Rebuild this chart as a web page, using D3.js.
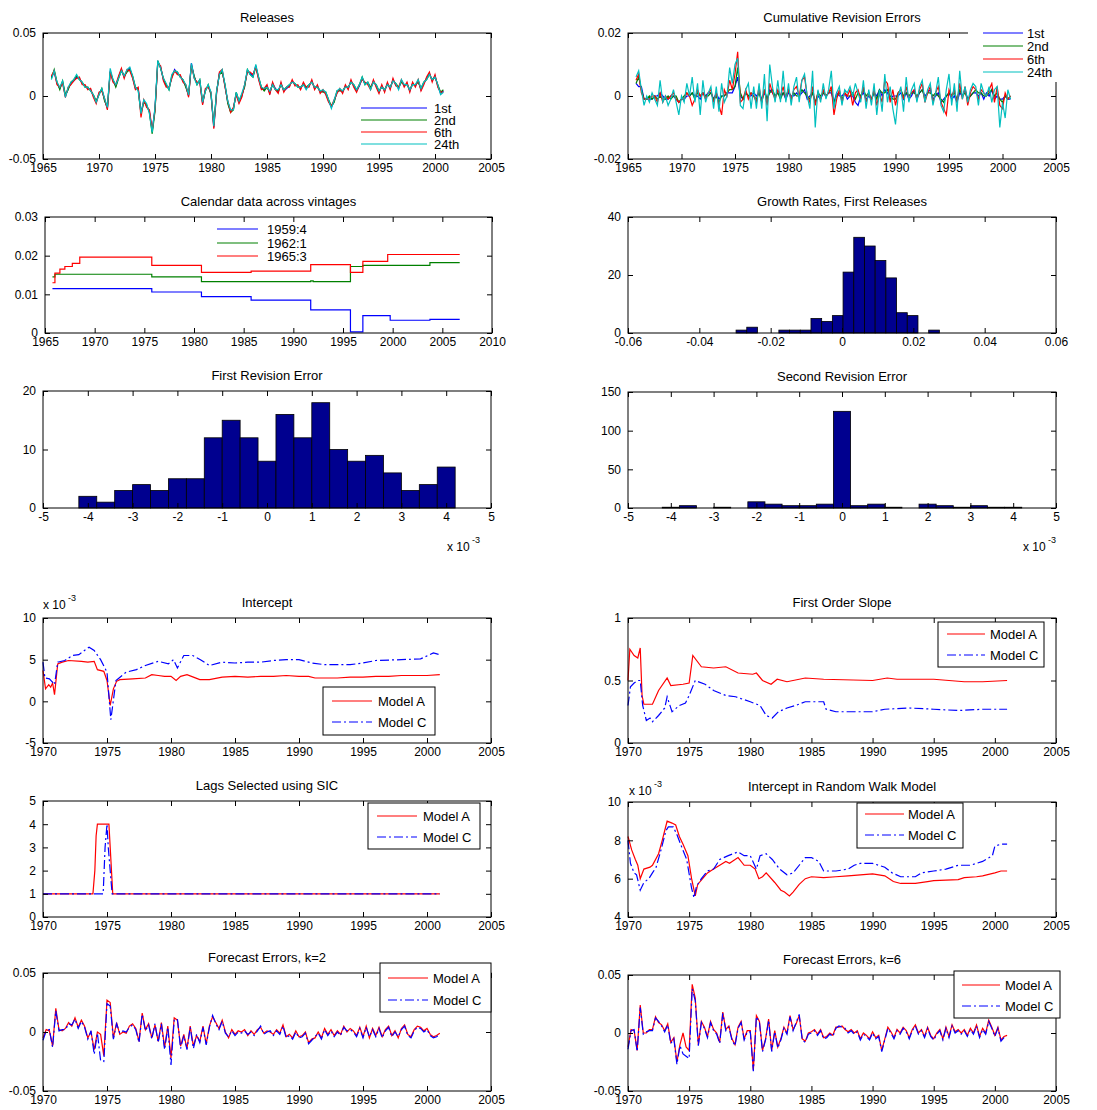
<!DOCTYPE html>
<html>
<head>
<meta charset="utf-8">
<script src="https://cdn.jsdelivr.net/npm/d3@7"></script>
<style>
  body { margin: 0; background: #fff; }
  text { font-family: "Liberation Sans", Arial, sans-serif; fill: #000; }
</style>
</head>
<body>
<div id="chart"></div>
<script>
// ---- data (growth rates and errors in units of 0.001) ----

// Releases, quarterly from 1965:4
var rel1 = [15, 19,10,6,11, 0,6,10,12, 15,14,10,8, 6,5,0,-5, 2,5,-3,-10, 20,12,8,15, 21,15,20,22, 15,6,6,-13,
  -4,-8,-12,-28, -10,27,23,13, 8,6,15,21, 18,16,12,8, 0,26,15,10, 12,-6,5,8, 2,-25,3,18, 20,8,-5,-12,
  -10,2,-5,0, 8,20,18,16, 24,14,6,5, 8,2,10,6, 3,10,4,6, 8,12,9,8, 6,10,6,8, 12,6,8,3, 4,2,-4,-9,
  -4,3,5,3, 8,6,12,8, 4,8,14,10, 10,6,12,8, 3,8,4,10, 6,13,9,6, 12,8,10,4, 10,8,12,5, 10,14,18,12, 16,8,2,4];
var rel2 = [14, 21,11,5,12, 1,5,11,13, 16,13,11,7, 7,4,1,-4, 1,6,-4,-9, 19,13,7,14, 20,16,19,21, 16,7,5,-14,
  -5,-7,-13,-30, -12,28,22,14, 9,5,16,20, 19,15,13,7, 1,24,16,9, 13,-5,4,9, 1,-23,4,17, 19,9,-6,-13,
  -11,3,-4,1, 7,21,17,15, 23,15,7,4, 7,3,9,5, 4,9,5,7, 9,11,10,7, 7,9,7,9, 11,7,7,4, 3,3,-3,-8,
  -5,4,4,4, 7,7,11,9, 5,9,15,9, 11,7,11,9, 4,7,5,9, 7,12,10,7, 11,9,9,5, 9,9,11,6, 11,13,17,13, 15,9,3,5];
var rel6 = [16, 20,9,7,10, -1,7,9,12, 14,15,9,9, 5,6,-1,-6, 3,4,-2,-11, 19,11,9,16, 22,14,21,20, 14,5,7,-17,
  -3,-9,-11,-27, -11,26,24,12, 7,7,14,20, 17,17,11,9, -1,25,14,11, 11,-7,6,7, 3,-26,2,19, 21,7,-4,-13,
  -9,1,-6,-1, 9,19,19,17, 23,13,5,6, 9,1,11,5, 2,11,3,7, 7,13,8,9, 5,11,7,7, 13,5,9,2, 5,1,-5,-8,
  -3,2,6,2, 9,5,13,7, 3,9,13,11, 9,5,13,7, 2,9,3,11, 5,14,8,7, 13,7,11,3, 11,7,13,4, 9,15,19,11, 17,7,3,3];
var rel24 = [13, 20,11,7,12, -1,7,11,13, 17,13,11,7, 7,4,1,-5, 1,6,-2,-9, 22,13,9,14, 20,16,21,23, 16,7,4,-14,
  -3,-6,-14,-29, -9,28,22,14, 10,5,17,20, 19,15,13,9, 1,26,14,9, 13,-5,4,9, 3,-24,4,17, 21,9,-4,-11,
  -11,3,-4,2, 9,21,17,15, 25,15,7,6, 7,4,9,5, 5,9,5,7, 9,11,10,7, 7,9,5,9, 11,7,7,4, 5,3,-3,-10,
  -3,4,6,4, 7,7,11,9, 5,9,15,9, 11,5,11,9, 4,7,5,9, 7,12,10,5, 13,9,9,5, 9,9,13,6, 11,13,17,13, 15,9,1,3];

// Cumulative revision errors, quarterly from 1965:4
var rev1 = [4, 3,3,-1,-1, -1,-1,0,0, 1,0,-1,-1, 0,0,-1,-2, -1,-1,0,0, 1,0,0,-1, 1,0,1,1, -1,1,-1,0,
  0,1,1,1, 3,6,0,-1, 1,0,0,1, 0,1,-1,1, -1,2,1,0, 1,0,1,-1, 1,0,0,1, 0,1,2,-1, 0,1,-2,0, -1,1,0,1,
  1,-2,1,0, 0,1,-1,0, 0,-2,-3,0, 1,-1,0,-1, 1,0,2,0, 2,1,-1,0, 0,0,1,-1, 1,-1,0,2, -1,1,2,0,
  1,2,-1,0, 1,-2,-1,0, 1,-1,0,-2, 1,0,2,-1, 0,1,1,0, 1,-1,1,0, 2,-1,0,-1, -1,0,-1,-1];
var rev2 = [4, 6,2,-1,-1, 0,-1,0,-1, 0,-1,-1,0, -1,0,0,-2, -1,0,1,0, 1,-1,1,0, 1,0,0,1, -1,0,-2,0,
  0,1,2,2, 3,9,1,-1, 1,0,1,0, -1,1,-2,2, -1,1,2,0, 1,-1,1,0, 2,-1,1,0, 0,2,1,0, -1,1,-2,1, 0,1,0,1,
  2,-2,0,1, -1,1,0,0, 1,-1,1,0, 2,0,1,-1, 1,-1,2,1, 1,2,0,-1, -1,1,2,0, 1,0,1,1, 0,1,2,-1,
  1,1,0,1, 0,-1,-2,0, 1,0,1,-1, 2,0,1,-1, 0,1,2,1, 1,0,0,1, 2,0,1,-1, -2,0,-1,0];
var rev6 = [5, 7,1,-1,-1, -1,0,0,-2, 1,-2,0,-1, 0,1,-1,-2, -1,-1,1,0, -3,-1,2,0, 1,-1,1,2, -2,1,-3,-6,
  2,0,5,2, 7,14,-2,-1, 2,-1,1,0, -2,3,-2,2, -3,4,1,-1, 2,0,3,-1, 2,-1,2,3, 0,5,6,0, -2,3,-3,1, -1,2,0,1,
  3,-6,-1,2, -2,1,0,2, -3,1,2,-1, 3,-2,1,-1, 2,-3,1,-2, 5,4,-2,2, -3,1,2,-1, 3,-1,1,2, -1,2,4,-2,
  1,3,-2,1, 3,-2,-4,-6, 2,0,2,-2, 4,-1,3,-3, 1,3,2,-1, 2,1,0,2, 4,-2,3,-3, -4,1,-1,0];
var rev24 = [6, 8,2,-3,0, -2,1,-1,-3, 5,-2,0,-3, -1,2,-2,-6, 0,-2,4,0, 6,-2,4,-6, 5,-2,1,3, -4,3,-5,4,
  -2,0,9,4, 10,12,-3,-4, 2,4,-4,3, -4,4,-4,7, -8,10,3,-2, 5,-2,8,-2, 4,-3,3,6, -2,5,7,0, -4,8,-10,2,
  -2,4,-1,2, 8,-4,1,3, -3,2,1,3, 0,4,1,-2, 5,-4,2,-3, 4,-6,2,-5, 7,-2,3,-4, -9,0,3,-5, 6,-2,2,4,
  -2,3,5,-2, 2,4,-3,1, 6,-3,-5,2, 7,-3,4,-5, 8,-1,3,-2, 2,4,3,-3, 4,1,0,3, -2,2,3,-10, -2,-7,2,-1];
var releaseNames = ["1st", "2nd", "6th", "24th"];

// Calendar data across vintages (step points)
var calYears1959 = [1965.75, 1975.75, 1980.75, 1985.75, 1991.75, 1995.75, 1997.0, 1999.75, 2003.75, 2006.75];
var cal1959 = [11.5, 10.6, 9.4, 8.5, 6.0, 0.3, 4.5, 3.3, 3.5, 3.5];
var calYears1962 = [1965.75, 1966.0, 1975.75, 1980.75, 1991.75, 1992.0, 1995.75, 1997.0, 2003.75, 2006.75];
var cal1962 = [14.5, 15.2, 14.5, 13.3, 13.5, 13.3, 17.2, 17.5, 18.2, 18.2];
var calYears1965 = [1965.75, 1966.0, 1966.5, 1967.0, 1967.75, 1968.5, 1975.75, 1980.75, 1985.75, 1991.75, 1995.75, 1997.0, 1999.5, 2006.75];
var cal1965 = [13.0, 15.5, 16.5, 17.2, 18.0, 19.6, 17.5, 15.7, 16.0, 17.7, 15.7, 18.5, 20.3, 20.3];
var vintageNames = ["1959:4", "1962:1", "1965:3"];

// Growth rates histogram (bin centres in 0.001)
var growthBins = [-28.2, -25.2, -22.2, -19.2, -16.2, -13.2, -10.2, -7.2, -4.2, -1.2, 1.8, 4.8, 7.8, 10.8, 13.8, 16.8, 19.8, 22.8, 25.8];
var growthCounts = [1, 2, 0, 0, 1, 1, 1, 5, 4, 6, 21, 33, 30, 25, 19, 7, 6, 0, 1];

// Revision error histograms (bin centres in 0.001)
var revBins = [-4, -3.6, -3.2, -2.8, -2.4, -2, -1.6, -1.2, -0.8, -0.4, 0, 0.4, 0.8, 1.2, 1.6, 2, 2.4, 2.8, 3.2, 3.6, 4];
var firstRevCounts = [2, 1, 3, 4, 3, 5, 5, 12, 15, 12, 8, 16, 12, 18, 10, 8, 9, 6, 3, 4, 7];
var secondRevCounts = [1, 3, 0, 1, 0, 8, 5, 3, 3, 5, 125, 3, 5, 1, 0, 5, 3, 1, 3, 1, 1];

// Intercept (x 1e-3)
var icptYearsA = [1970.0, 1970.2, 1970.45, 1970.6, 1970.75, 1970.9, 1971.15, 1971.5, 1972.0, 1973.0, 1973.5, 1974.0, 1974.25, 1974.75,
  1975.0, 1975.25, 1975.5, 1975.75, 1976.0, 1977.0, 1978.0, 1978.5, 1979.0, 1979.5, 1980.0, 1980.4, 1980.75, 1981.25, 1981.75,
  1982.25, 1983.0, 1984.0, 1985.0, 1986.0, 1987.0, 1988.0, 1989.0, 1990.0, 1990.75, 1991.25, 1992.0, 1993.0, 1994.0, 1995.0,
  1996.0, 1997.0, 1998.0, 1999.0, 2000.0, 2001.0];
var icptA = [3.7, 1.5, 2.0, 1.7, 2.2, 0.8, 4.5, 4.7, 4.9, 4.8, 4.7, 4.8, 3.8, 3.6,
  2.5, -0.5, 1.5, 2.4, 2.6, 2.7, 2.8, 3.2, 3.1, 3.0, 3.0, 2.5, 3.0, 3.2, 2.9,
  2.6, 2.6, 2.9, 3.0, 2.9, 3.0, 3.0, 3.1, 3.0, 3.0, 2.8, 2.8, 2.8, 2.9, 2.9,
  3.0, 3.0, 3.1, 3.1, 3.1, 3.2];
var icptYearsC = [1970.0, 1970.15, 1970.5, 1970.8, 1970.9, 1971.15, 1971.7, 1972.3, 1972.8, 1973.6, 1974.0, 1974.5, 1975.0, 1975.3,
  1975.7, 1976.5, 1977.3, 1978.0, 1979.0, 1979.8, 1980.2, 1980.5, 1981.0, 1981.7, 1982.3, 1983.0, 1984.0, 1985.0, 1986.0,
  1987.0, 1988.0, 1989.0, 1990.0, 1991.0, 1992.0, 1994.0, 1995.0, 1996.0, 1998.0, 1999.5, 2000.5, 2001.0];
var icptC = [4.7, 2.8, 2.7, 2.2, 2.0, 4.7, 4.9, 5.5, 5.6, 6.5, 6.1, 5.0, 3.5, -2.2,
  2.5, 3.5, 3.8, 4.3, 4.8, 4.5, 5.0, 4.0, 5.5, 5.5, 5.0, 4.3, 4.7, 4.6, 4.7,
  4.7, 4.9, 5.0, 5.0, 4.6, 4.4, 4.4, 4.6, 4.9, 5.0, 5.1, 5.8, 5.6];

// First order slope
var slopeYearsA = [1970.0, 1970.15, 1970.5, 1970.8, 1971.0, 1971.15, 1971.3, 1972.0, 1972.5, 1973.2, 1973.5, 1974.5, 1975.0, 1975.3,
  1976.0, 1977.0, 1978.0, 1979.0, 1980.2, 1980.5, 1981.0, 1981.7, 1982.2, 1983.0, 1984.5, 1986.0, 1990.0, 1991.2, 1992.0,
  1995.0, 1997.5, 1999.0, 2001.0];
var slopeA = [0.5, 0.75, 0.7, 0.68, 0.76, 0.38, 0.31, 0.31, 0.42, 0.52, 0.46, 0.47, 0.48, 0.7,
  0.61, 0.6, 0.61, 0.56, 0.55, 0.56, 0.5, 0.47, 0.51, 0.49, 0.52, 0.51, 0.5, 0.52, 0.51,
  0.51, 0.49, 0.49, 0.5];
var slopeYearsC = [1970.0, 1970.2, 1970.5, 1970.8, 1971.0, 1971.2, 1971.5, 1971.8, 1972.0, 1972.5, 1973.0, 1973.2, 1973.6, 1974.2,
  1974.7, 1975.0, 1975.5, 1976.3, 1977.0, 1978.0, 1978.8, 1980.0, 1980.8, 1981.3, 1981.8, 1982.3, 1983.0, 1983.7, 1984.5,
  1986.0, 1986.2, 1987.0, 1990.0, 1991.0, 1993.0, 1995.0, 1997.0, 1999.0, 2001.0];
var slopeC = [0.3, 0.45, 0.48, 0.5, 0.5, 0.3, 0.18, 0.2, 0.17, 0.22, 0.28, 0.37, 0.25, 0.3,
  0.32, 0.38, 0.5, 0.47, 0.42, 0.38, 0.37, 0.33, 0.3, 0.22, 0.2, 0.25, 0.28, 0.3, 0.33,
  0.33, 0.27, 0.25, 0.25, 0.27, 0.28, 0.27, 0.26, 0.27, 0.27];

// Lags selected using SIC
var lagYearsA = [1970.0, 1973.9, 1974.05, 1974.15, 1974.25, 1975.15, 1975.25, 1975.35, 1975.45, 2001.0];
var lagA = [1, 1, 2, 3.5, 4, 4, 3, 2, 1, 1];
var lagYearsC = [1970.0, 1974.7, 1974.85, 1975.0, 1975.1, 1975.25, 1975.4, 2001.0];
var lagC = [1, 1, 3, 4, 3, 2, 1, 1];

// Intercept in random walk model (x 1e-3)
var rwYearsA = [1970.0, 1970.3, 1970.6, 1970.8, 1971.0, 1971.3, 1971.8, 1972.0, 1972.5, 1972.8, 1973.0, 1973.2, 1973.6, 1973.9,
  1974.2, 1974.5, 1974.9, 1975.2, 1975.5, 1975.7, 1976.1, 1976.5, 1977.0, 1977.5, 1978.0, 1978.3, 1979.0, 1979.5, 1980.0,
  1980.4, 1980.7, 1981.0, 1981.3, 1982.0, 1982.5, 1982.8, 1983.2, 1983.5, 1984.0, 1984.5, 1985.0, 1986.0, 1987.0, 1988.0,
  1989.0, 1990.0, 1991.0, 1991.7, 1992.3, 1993.5, 1994.5, 1995.0, 1996.0, 1997.0, 1997.5, 1998.5, 1999.0, 2000.0, 2000.5, 2001.0];
var rwA = [8.2, 7.5, 7.0, 6.7, 6.0, 6.5, 6.6, 6.7, 7.3, 8.0, 8.5, 9.0, 8.9, 8.8,
  8.2, 7.8, 7.2, 6.0, 5.1, 5.7, 6.0, 6.3, 6.5, 6.7, 6.9, 6.8, 7.1, 6.7, 6.7,
  6.5, 6.0, 6.1, 6.3, 5.8, 5.4, 5.3, 5.1, 5.3, 5.7, 6.0, 6.1, 6.05, 6.1, 6.15,
  6.2, 6.25, 6.15, 5.85, 5.75, 5.75, 5.85, 5.9, 5.92, 5.95, 6.05, 6.1, 6.15, 6.3, 6.4, 6.4];
var rwYearsC = [1970.0, 1970.2, 1970.5, 1970.7, 1971.0, 1971.3, 1971.7, 1972.0, 1972.3, 1972.7, 1973.1, 1973.3, 1973.7, 1974.0,
  1974.3, 1974.8, 1975.2, 1975.4, 1975.6, 1976.0, 1976.5, 1977.0, 1977.5, 1978.2, 1979.0, 1979.5, 1980.0, 1980.5, 1980.8,
  1981.3, 1981.8, 1982.4, 1983.0, 1983.5, 1984.0, 1984.5, 1985.0, 1985.6, 1986.0, 1987.0, 1988.0, 1988.5, 1989.0, 1990.0,
  1991.0, 1991.6, 1992.3, 1993.5, 1994.0, 1995.0, 1996.0, 1997.0, 1998.0, 1999.0, 1999.8, 2000.0, 2000.5, 2001.0];
var rwC = [8.0, 6.8, 6.3, 6.2, 5.4, 5.8, 6.0, 6.3, 6.6, 7.5, 8.5, 8.7, 8.7, 8.3,
  7.8, 7.0, 5.5, 5.0, 5.6, 6.0, 6.4, 6.5, 7.0, 7.2, 7.4, 7.2, 7.2, 6.5, 7.2,
  7.3, 7.0, 6.5, 6.2, 6.3, 6.7, 7.1, 7.1, 6.9, 6.4, 6.4, 6.5, 6.7, 6.8, 6.8,
  6.6, 6.3, 6.1, 6.1, 6.3, 6.4, 6.5, 6.7, 6.7, 6.9, 7.2, 7.7, 7.8, 7.8];

// Forecast errors, quarterly from 1970:1
var fe2A = [-5,2,1,-12, 20,2,1,3, 8,5,12,4, 10,5,-5,0, -15,0,-2,-20, 27,25,-5,8, -2,0,-1,5, 7,3,-8,16,
  2,7,-5,6, -8,8,-13,5, -22,12,10,-12, -2,-14,5,-12, -3,-8,5,-10, 5,13,8,3, 10,0,-5,2, -2,1,0,2,
  -3,1,-2,2, 4,-1,1,0, -2,2,-1,6, -4,-2,-5,1, -4,-3,0,-9, -6,-5,0,-5, 3,-2,2,-3, 1,-2,5,0,
  3,1,-3,4, -4,5,-5,3, -3,4,-4,2, 5,-3,1,-5, 3,6,-2,-4, 2,5,4,1, 3,-2,-4,-3, -1];
var fe2C = [-7,1,2,-13, 18,1,2,2, 7,6,11,3, 9,4,-6,1, -19,-1,-24,-25, 24,22,-6,7, -1,1,0,4, 6,2,-9,15,
  1,6,-6,7, -9,7,-15,4, -28,10,11,-14, -3,-15,4,-14, -2,-9,4,-11, 4,14,7,2, 9,-1,-4,1, -3,0,-1,1,
  -2,0,-3,1, 5,-2,0,1, -3,1,-2,5, -5,-3,-6,0, -5,-4,-1,-10, -7,-4,-1,-6, 2,-3,1,-4, 0,-3,4,1,
  2,0,-4,3, -5,4,-4,2, -4,3,-5,1, 4,-4,0,-4, 2,5,-3,-5, 1,4,3,0, 2,-3,-5,-4, -2];
var fe6A = [-12,3,2,-15, 24,0,0,3, 3,14,9,7, 2,8,-8,-4, -25,-10,0,-12, -15,42,30,-10, 10,5,-3,10, 3,0,-8,18,
  3,6,-5,-10, 5,10,-5,2, 2,-32,15,10, -15,-5,12,-15, 2,-12,-5,5, 0,15,3,8, 15,-5,-7,0, 1,3,-1,3,
  -4,-3,0,-2, 5,5,6,3, 1,3,0,2, -5,0,-2,-5, 1,-4,-2,-15, -5,5,1,-4, 3,0,5,2, -4,3,7,0,
  3,-3,5,-2, -5,0,3,-5, 5,-3,7,1, 3,0,3,-2, 4,0,7,-3, 4,0,11,5, -2,5,-6,-3, -2];
var fe6C = [-14,2,3,-16, 22,-1,1,2, 2,13,10,6, 1,7,-9,-5, -27,-11,-18,-20, -22,38,28,-11, 9,4,-4,9, 2,-1,-9,17,
  2,5,-6,-11, 4,9,-6,1, 1,-33,14,9, -16,-6,11,-16, 1,-13,-6,4, -1,14,2,9, 16,-6,-8,-1, 0,2,-2,2,
  -5,-4,-1,-3, 4,6,5,4, 0,2,-1,1, -6,-1,-3,-6, 0,-5,-3,-16, -6,4,0,-5, 2,-1,4,1, -5,2,6,-1,
  2,-4,4,-3, -6,-1,2,-6, 4,-4,6,0, 2,-1,2,-3, 3,-1,6,-4, 3,-1,10,4, -3,4,-7,-4, -3];
var modelNames = ["Model A", "Model C"];

// ---- tick values and labels ----
var years65 = [1965, 1970, 1975, 1980, 1985, 1990, 1995, 2000, 2005];
var years65to10 = [1965, 1970, 1975, 1980, 1985, 1990, 1995, 2000, 2005, 2010];
var years70 = [1970, 1975, 1980, 1985, 1990, 1995, 2000, 2005];
var ticks50 = [-50, 0, 50], labels50 = ["-0.05", "0", "0.05"];
var ticks20 = [-20, 0, 20], labels20 = ["-0.02", "0", "0.02"];
var calTicks = [0, 10, 20, 30], calLabels = ["0", "0.01", "0.02", "0.03"];
var growthXTicks = [-60, -40, -20, 0, 20, 40, 60];
var growthXLabels = ["-0.06", "-0.04", "-0.02", "0", "0.02", "0.04", "0.06"];
var growthYTicks = [0, 20, 40];
var histXTicks = [-5, -4, -3, -2, -1, 0, 1, 2, 3, 4, 5];
var firstRevYTicks = [0, 10, 20];
var secondRevYTicks = [0, 50, 100, 150];
var icptTicks = [-5, 0, 5, 10];
var slopeTicks = [0, 0.5, 1];
var lagTicks = [0, 1, 2, 3, 4, 5];
var rwTicks = [4, 6, 8, 10];

// ---- drawing ----
var blue = "#0000ff", green = "#008000", red = "#ff0000", cyan = "#00bfbf", navy = "#00008f";
var dashDot = "9,3,2,3";

var svg = d3.select("#chart").append("svg")
  .attr("width", 1097)
  .attr("height", 1110);

function quarterly(start, vals) { return vals.map((v, i) => [start + i / 4, v]); }
function pairs(xs, ys) { return xs.map((v, i) => [v, ys[i]]); }

// one MATLAB-style axes box with inward ticks on all sides
function panel(p) {
  var w = p.right - p.left, h = p.bottom - p.top;
  var g = svg.append("g").attr("transform", `translate(${p.left},${p.top})`);
  var x = d3.scaleLinear().domain(p.xDomain).range([0, w]);
  var y = d3.scaleLinear().domain(p.yDomain).range([h, 0]);
  var marks = g.append("g");
  var axes = g.append("g");
  var xl = p.xLabels || p.xTicks.map(String);
  var yl = p.yLabels || p.yTicks.map(String);
  axes.append("g").attr("transform", `translate(0,${h})`)
    .call(d3.axisBottom(x).tickValues(p.xTicks).tickFormat((d, i) => xl[i]).tickSizeInner(-5).tickSizeOuter(0).tickPadding(4));
  axes.append("g")
    .call(d3.axisTop(x).tickValues(p.xTicks).tickFormat("").tickSizeInner(-5).tickSizeOuter(0));
  axes.append("g")
    .call(d3.axisLeft(y).tickValues(p.yTicks).tickFormat((d, i) => yl[i]).tickSizeInner(-5).tickSizeOuter(0).tickPadding(7));
  axes.append("g").attr("transform", `translate(${w},0)`)
    .call(d3.axisRight(y).tickValues(p.yTicks).tickFormat("").tickSizeInner(-5).tickSizeOuter(0));
  axes.selectAll(".domain").remove();
  axes.selectAll(".tick line").attr("stroke", "#000");
  axes.selectAll("text").style("font-size", "12px").attr("fill", "#000");
  axes.append("rect")
    .attr("width", w).attr("height", h)
    .attr("fill", "none").attr("stroke", "#000").attr("stroke-width", 1);
  g.append("text")
    .attr("x", w / 2).attr("y", -11)
    .attr("text-anchor", "middle")
    .style("font-size", "13px")
    .text(p.title);
  return { g: marks, x: x, y: y };
}

function drawLine(pn, data, color, dash) {
  pn.g.append("path")
    .datum(data)
    .attr("fill", "none")
    .attr("stroke", color)
    .attr("stroke-width", 1.2)
    .attr("stroke-dasharray", dash || null)
    .attr("d", d3.line().x(d => pn.x(d[0])).y(d => pn.y(d[1])));
}

function drawStep(pn, data, color) {
  pn.g.append("path")
    .datum(data)
    .attr("fill", "none")
    .attr("stroke", color)
    .attr("stroke-width", 1.2)
    .attr("d", d3.line().curve(d3.curveStepAfter).x(d => pn.x(d[0])).y(d => pn.y(d[1])));
}

function drawHist(pn, centres, counts, width) {
  pn.g.selectAll("rect.bar")
    .data(centres.map((c, i) => [c, counts[i]]).filter(d => d[1] > 0))
    .enter()
    .append("rect")
    .attr("class", "bar")
    .attr("x", d => pn.x(d[0] - width / 2))
    .attr("width", d => pn.x(d[0] + width / 2) - pn.x(d[0] - width / 2))
    .attr("y", d => pn.y(d[1]))
    .attr("height", d => pn.y(0) - pn.y(d[1]))
    .attr("fill", navy)
    .attr("stroke", "#000")
    .attr("stroke-width", 0.8);
}

function legend(o) {
  var lg = svg.append("g");
  if (o.box) {
    lg.append("rect")
      .attr("x", o.box[0]).attr("y", o.box[1])
      .attr("width", o.box[2] - o.box[0]).attr("height", o.box[3] - o.box[1])
      .attr("fill", "#fff")
      .attr("stroke", o.border ? "#000" : "none");
  }
  o.items.forEach(function (it, i) {
    lg.append("line")
      .attr("x1", o.lineX[0]).attr("x2", o.lineX[1])
      .attr("y1", o.rows[i]).attr("y2", o.rows[i])
      .attr("stroke", it.color).attr("stroke-width", 1.2)
      .attr("stroke-dasharray", it.dash || null);
    lg.append("text")
      .attr("x", o.textX).attr("y", o.rows[i]).attr("dy", "0.36em")
      .style("font-size", "13px")
      .text(it.label);
  });
}

function exponent(x, y) {
  svg.append("text").attr("x", x).attr("y", y).style("font-size", "12px").text("x 10");
  svg.append("text").attr("x", x + 25).attr("y", y - 8).style("font-size", "9px").text("-3");
}

var L = { left: 43, right: 491 }, R = { left: 628, right: 1056 };

// Releases
var p1 = panel({ left: L.left, right: L.right, top: 33, bottom: 159, title: "Releases",
  xDomain: [1965, 2005], yDomain: [-50, 50], xTicks: years65, yTicks: ticks50, yLabels: labels50 });
[[rel1, blue], [rel2, green], [rel6, red], [rel24, cyan]].forEach(s => drawLine(p1, quarterly(1965.75, s[0]), s[1]));
legend({ box: [357, 101, 476, 152], border: false, lineX: [361, 427], textX: 434, rows: [108, 120, 132, 144],
  items: releaseNames.map((n, i) => ({ label: n, color: [blue, green, red, cyan][i] })) });

// Cumulative revision errors
var p2 = panel({ left: R.left, right: R.right, top: 33, bottom: 159, title: "Cumulative Revision Errors",
  xDomain: [1965, 2005], yDomain: [-20, 20], xTicks: years65, yTicks: ticks20, yLabels: labels20 });
[[rev1, blue], [rev2, green], [rev6, red], [rev24, cyan]].forEach(s => drawLine(p2, quarterly(1965.75, s[0]), s[1]));
legend({ box: [968, 25, 1062, 82], border: false, lineX: [983, 1023], textX: 1027, rows: [33, 46, 59, 72],
  items: releaseNames.map((n, i) => ({ label: n, color: [blue, green, red, cyan][i] })) });

// Calendar data across vintages
var p3 = panel({ left: 45, right: 492, top: 217, bottom: 333, title: "Calendar data across vintages",
  xDomain: [1965, 2010], yDomain: [0, 30], xTicks: years65to10, yTicks: calTicks, yLabels: calLabels });
drawStep(p3, pairs(calYears1959, cal1959), blue);
drawStep(p3, pairs(calYears1962, cal1962), green);
drawStep(p3, pairs(calYears1965, cal1965), red);
legend({ box: null, lineX: [217, 258], textX: 267, rows: [229, 243, 256],
  items: vintageNames.map((n, i) => ({ label: n, color: [blue, green, red][i] })) });

// Growth rates histogram
var p4 = panel({ left: R.left, right: R.right, top: 217, bottom: 333, title: "Growth Rates, First Releases",
  xDomain: [-60, 60], yDomain: [0, 40], xTicks: growthXTicks, xLabels: growthXLabels, yTicks: growthYTicks });
drawHist(p4, growthBins, growthCounts, 3.0);

// First revision error
var p5 = panel({ left: L.left, right: L.right, top: 391, bottom: 508, title: "First Revision Error",
  xDomain: [-5, 5], yDomain: [0, 20], xTicks: histXTicks, yTicks: firstRevYTicks });
drawHist(p5, revBins, firstRevCounts, 0.4);
exponent(447, 551);

// Second revision error
var p6 = panel({ left: R.left, right: R.right, top: 392, bottom: 508, title: "Second Revision Error",
  xDomain: [-5, 5], yDomain: [0, 150], xTicks: histXTicks, yTicks: secondRevYTicks });
drawHist(p6, revBins, secondRevCounts, 0.4);
exponent(1023, 551);

// Intercept
var p7 = panel({ left: L.left, right: L.right, top: 618, bottom: 743, title: "Intercept",
  xDomain: [1970, 2005], yDomain: [-5, 10], xTicks: years70, yTicks: icptTicks });
drawLine(p7, pairs(icptYearsA, icptA), red);
drawLine(p7, pairs(icptYearsC, icptC), blue, dashDot);
exponent(43, 609);
legend({ box: [323, 687, 435, 735], border: true, lineX: [332, 372], textX: 378, rows: [701, 722],
  items: [{ label: modelNames[0], color: red }, { label: modelNames[1], color: blue, dash: dashDot }] });

// First order slope
var p8 = panel({ left: R.left, right: R.right, top: 618, bottom: 743, title: "First Order Slope",
  xDomain: [1970, 2005], yDomain: [0, 1], xTicks: years70, yTicks: slopeTicks });
drawLine(p8, pairs(slopeYearsA, slopeA), red);
drawLine(p8, pairs(slopeYearsC, slopeC), blue, dashDot);
legend({ box: [938, 622, 1044, 667], border: true, lineX: [947, 985], textX: 990, rows: [634, 655],
  items: [{ label: modelNames[0], color: red }, { label: modelNames[1], color: blue, dash: dashDot }] });

// Lags selected using SIC
var p9 = panel({ left: L.left, right: L.right, top: 801, bottom: 917, title: "Lags Selected using SIC",
  xDomain: [1970, 2005], yDomain: [0, 5], xTicks: years70, yTicks: lagTicks });
drawLine(p9, pairs(lagYearsA, lagA), red);
drawLine(p9, pairs(lagYearsC, lagC), blue, dashDot);
legend({ box: [368, 803, 480, 849], border: true, lineX: [377, 417], textX: 423, rows: [816, 837],
  items: [{ label: modelNames[0], color: red }, { label: modelNames[1], color: blue, dash: dashDot }] });

// Intercept in random walk model
var p10 = panel({ left: R.left, right: R.right, top: 802, bottom: 917, title: "Intercept in Random Walk Model",
  xDomain: [1970, 2005], yDomain: [4, 10], xTicks: years70, yTicks: rwTicks });
drawLine(p10, pairs(rwYearsA, rwA), red);
drawLine(p10, pairs(rwYearsC, rwC), blue, dashDot);
exponent(629, 795);
legend({ box: [857, 803, 963, 848], border: true, lineX: [865, 904], textX: 908, rows: [814, 835],
  items: [{ label: modelNames[0], color: red }, { label: modelNames[1], color: blue, dash: dashDot }] });

// Forecast errors, k=2
var p11 = panel({ left: L.left, right: L.right, top: 973, bottom: 1091, title: "Forecast Errors, k=2",
  xDomain: [1970, 2005], yDomain: [-50, 50], xTicks: years70, yTicks: ticks50, yLabels: labels50 });
drawLine(p11, quarterly(1970, fe2A), red);
drawLine(p11, quarterly(1970, fe2C), blue, dashDot);
legend({ box: [380, 963, 491, 1012], border: true, lineX: [388, 428], textX: 433, rows: [978, 1000],
  items: [{ label: modelNames[0], color: red }, { label: modelNames[1], color: blue, dash: dashDot }] });

// Forecast errors, k=6
var p12 = panel({ left: R.left, right: R.right, top: 975, bottom: 1091, title: "Forecast Errors, k=6",
  xDomain: [1970, 2005], yDomain: [-50, 50], xTicks: years70, yTicks: ticks50, yLabels: labels50 });
drawLine(p12, quarterly(1970, fe6A), red);
drawLine(p12, quarterly(1970, fe6C), blue, dashDot);
legend({ box: [954, 971, 1060, 1018], border: true, lineX: [962, 1000], textX: 1005, rows: [985, 1006],
  items: [{ label: modelNames[0], color: red }, { label: modelNames[1], color: blue, dash: dashDot }] });
</script>
</body>
</html>
